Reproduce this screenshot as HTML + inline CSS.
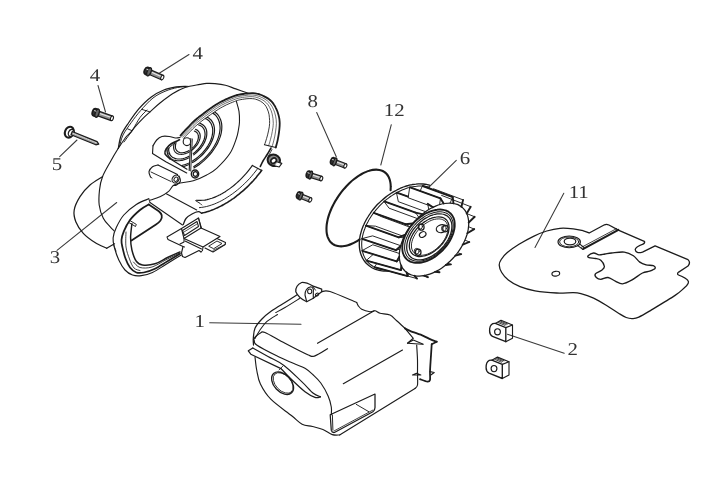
<!DOCTYPE html>
<html><head><meta charset="utf-8"><title>Parts diagram</title>
<style>
html,body{margin:0;padding:0;background:#fff;}
body{width:720px;height:480px;overflow:hidden;}
svg{display:block}
svg text{font-family:"Liberation Serif","DejaVu Serif",serif;fill:#333;stroke:none;text-rendering:geometricPrecision}
</style></head><body>
<svg width="720" height="480" viewBox="0 0 720 480" fill="none" stroke="#1c1c1c" stroke-width="1.15" stroke-linecap="round" stroke-linejoin="round">
<defs><filter id="gs" x="0" y="0" width="720" height="480" filterUnits="userSpaceOnUse" color-interpolation-filters="sRGB"><feGaussianBlur stdDeviation="0.38"/><feColorMatrix type="saturate" values="0"/></filter></defs>
<g filter="url(#gs)">
<g class="lb">
<text transform="translate(197.6 58.5) scale(1.16 1)" text-anchor="middle" font-size="18">4</text>
<text transform="translate(95 81.3) scale(1.16 1)" text-anchor="middle" font-size="18">4</text>
<text transform="translate(56.9 169.5) scale(1.16 1)" text-anchor="middle" font-size="18">5</text>
<text transform="translate(55 263.2) scale(1.16 1)" text-anchor="middle" font-size="18">3</text>
<text transform="translate(312.8 106.7) scale(1.16 1)" text-anchor="middle" font-size="18">8</text>
<text transform="translate(394.2 116.4) scale(1.16 1)" text-anchor="middle" font-size="18">12</text>
<text transform="translate(464.9 164.2) scale(1.16 1)" text-anchor="middle" font-size="18">6</text>
<text transform="translate(578.7 197.8) scale(1.16 1)" text-anchor="middle" font-size="18">11</text>
<text transform="translate(199.6 327) scale(1.16 1)" text-anchor="middle" font-size="18">1</text>
<text transform="translate(572.8 354.8) scale(1.16 1)" text-anchor="middle" font-size="18">2</text>
</g>
<g class="ld" stroke-width="1.05" stroke="#3a3a3a">
<path d="M189 54.5L159.6 73"/>
<path d="M98 85.5L105.5 112"/>
<path d="M59.7 156.7L77 140"/>
<path d="M57 250.3L116.7 202.5"/>
<path d="M316.7 112.5L336.3 156.7"/>
<path d="M391.3 124.7L380.8 165"/>
<path d="M456.3 160.3L418.3 197.5"/>
<path d="M563.8 193.3L535 247.5"/>
<path d="M209.7 322.8L301 324.2"/>
<path d="M564.2 353.3L507.5 334.2"/>
</g>
<g transform="translate(147.6 71.2) rotate(23.5)">
<path d="M1 -2.4 L16 -2.4 L16 2.4 L1 2.4 Z" fill="#8e8e8e" stroke-width="1.15"/>
<path d="M4.2 -0.6 L14.5 -0.6" stroke="#e8e8e8" stroke-width="1"/>
<ellipse cx="16" cy="0" rx="1.4" ry="2.4" fill="#fff" stroke-width="1.1"/>
<ellipse cx="-0.6" cy="0" rx="2.6" ry="3.7" fill="#3c3c3c" stroke-width="1.8"/>
<ellipse cx="1.6" cy="0" rx="1.9" ry="4.3" fill="#666" stroke-width="1.4"/>
<path d="M-1.6 -1.5 L-0.2 -1.5" stroke="#ddd" stroke-width=".9"/>
</g>
<g transform="translate(95.6 112.6) rotate(19.3)">
<path d="M1 -2.4 L17.3 -2.4 L17.3 2.4 L1 2.4 Z" fill="#8e8e8e" stroke-width="1.15"/>
<path d="M4.2 -0.6 L15.8 -0.6" stroke="#e8e8e8" stroke-width="1"/>
<ellipse cx="17.3" cy="0" rx="1.4" ry="2.4" fill="#fff" stroke-width="1.1"/>
<ellipse cx="-0.6" cy="0" rx="2.6" ry="3.7" fill="#3c3c3c" stroke-width="1.8"/>
<ellipse cx="1.6" cy="0" rx="1.9" ry="4.3" fill="#666" stroke-width="1.4"/>
<path d="M-1.6 -1.5 L-0.2 -1.5" stroke="#ddd" stroke-width=".9"/>
</g>
<g transform="translate(69.3 132.2) rotate(22.1)">
<ellipse cx="0" cy="0" rx="4.3" ry="5.6" fill="#fff" stroke-width="2.1"/>
<ellipse cx="2" cy="0" rx="2.7" ry="3.6" fill="#fff" stroke-width="1.3"/>
<path d="M2.5 -1.7 L29.3 -1.7 L31.8 0 L29.3 1.7 L2.5 1.7Z" fill="#9a9a9a" stroke-width="1.2"/>
<path d="M4 -0.3 L28.8 -0.3" stroke="#ddd" stroke-width=".9" stroke-dasharray="1 1"/>
</g>
<g transform="translate(333.3 161.3) rotate(21)">
<path d="M1 -2.3 L12.9 -2.3 L12.9 2.3 L1 2.3 Z" fill="#8e8e8e" stroke-width="1.15"/>
<path d="M3.3 -0.6 L11.4 -0.6" stroke="#e8e8e8" stroke-width="1"/>
<ellipse cx="12.9" cy="0" rx="1.4" ry="2.3" fill="#fff" stroke-width="1.1"/>
<ellipse cx="-0.6" cy="0" rx="2" ry="3.4" fill="#3c3c3c" stroke-width="1.8"/>
<ellipse cx="1.6" cy="0" rx="1.5" ry="4" fill="#666" stroke-width="1.4"/>
<path d="M-1.6 -1.4 L-0.2 -1.4" stroke="#ddd" stroke-width=".9"/>
</g>
<g transform="translate(309 174.6) rotate(18)">
<path d="M1 -2.3 L12.9 -2.3 L12.9 2.3 L1 2.3 Z" fill="#8e8e8e" stroke-width="1.15"/>
<path d="M3.3 -0.6 L11.4 -0.6" stroke="#e8e8e8" stroke-width="1"/>
<ellipse cx="12.9" cy="0" rx="1.4" ry="2.3" fill="#fff" stroke-width="1.1"/>
<ellipse cx="-0.6" cy="0" rx="2" ry="3.4" fill="#3c3c3c" stroke-width="1.8"/>
<ellipse cx="1.6" cy="0" rx="1.5" ry="4" fill="#666" stroke-width="1.4"/>
<path d="M-1.6 -1.4 L-0.2 -1.4" stroke="#ddd" stroke-width=".9"/>
</g>
<g transform="translate(299.3 195.5) rotate(21.8)">
<path d="M1 -2.3 L11.8 -2.3 L11.8 2.3 L1 2.3 Z" fill="#8e8e8e" stroke-width="1.15"/>
<path d="M3.3 -0.6 L10.3 -0.6" stroke="#e8e8e8" stroke-width="1"/>
<ellipse cx="11.8" cy="0" rx="1.4" ry="2.3" fill="#fff" stroke-width="1.1"/>
<ellipse cx="-0.6" cy="0" rx="2" ry="3.4" fill="#3c3c3c" stroke-width="1.8"/>
<ellipse cx="1.6" cy="0" rx="1.5" ry="4" fill="#666" stroke-width="1.4"/>
<path d="M-1.6 -1.4 L-0.2 -1.4" stroke="#ddd" stroke-width=".9"/>
</g>
<g transform="translate(0 0)">
<path d="M495.3 323.4 L505.8 327.6 L505.8 341.7 L492.5 336.3 Q489.6 334.8 489.6 331 L489.7 328.5 Q490.5 323 495.3 323.4Z" stroke-width="1.35" fill="#fff"/>
<path d="M495.3 323.4 L501 320.3 L512.5 325 L505.8 327.6" stroke-width="1.14"/>
<path d="M512.5 325 L512.5 338.3 L505.8 341.7" stroke-width="1.14"/>
<path d="M499.5 321.8L506.3 324.6" stroke-width="0.83"/>
<path d="M498.3 322.6L505 325.4" stroke-width="0.83"/>
<path d="M500.7 321.2L507.5 324" stroke-width="0.83"/>
<ellipse cx="497.5" cy="331.8" rx="2.9" ry="3.1" stroke-width="1.14"/>
</g>
<g transform="translate(-3.5 36.8)">
<path d="M495.3 323.4 L505.8 327.6 L505.8 341.7 L492.5 336.3 Q489.6 334.8 489.6 331 L489.7 328.5 Q490.5 323 495.3 323.4Z" stroke-width="1.35" fill="#fff"/>
<path d="M495.3 323.4 L501 320.3 L512.5 325 L505.8 327.6" stroke-width="1.14"/>
<path d="M512.5 325 L512.5 338.3 L505.8 341.7" stroke-width="1.14"/>
<path d="M499.5 321.8L506.3 324.6" stroke-width="0.83"/>
<path d="M498.3 322.6L505 325.4" stroke-width="0.83"/>
<path d="M500.7 321.2L507.5 324" stroke-width="0.83"/>
<ellipse cx="497.5" cy="331.8" rx="2.9" ry="3.1" stroke-width="1.14"/>
</g>
<g id="cover">
<path d="M118.3 148.3C118.8 146.1 119.5 139.3 121.3 135C123 130.7 125.9 126.9 128.8 122.5C131.7 118.1 135.1 113.1 138.8 108.8C142.6 104.5 147.1 100 151.3 96.9C155.5 93.8 159.6 91.7 163.8 90C168 88.3 172.6 87.5 176.3 86.9C180.1 86.3 184.6 86.4 186.3 86.3" stroke-width="1.25"/>
<path d="M119.5 146.5C120.1 144.6 121 139 123 135C125 131 128.4 126.6 131.3 122.5C134.2 118.4 137 114.7 140.6 110.6C144.2 106.5 148.9 101.2 153 98C157.1 94.8 160.9 93 165 91.3C169.1 89.5 173.7 88.3 177.5 87.5C181.3 86.7 186.2 86.5 188 86.3" stroke-width="0.94"/>
<path d="M124 142C125.4 140 129.8 134.1 132.5 130C135.2 125.9 137.6 120.8 140 117.5C142.4 114.2 145.8 111.2 147 110" stroke-width="0.94"/>
<path d="M118.3 148.3C119.6 146.4 124 139.6 126 137C128.1 134.4 129.1 134.2 130.6 132.5C132.1 130.8 133 129.2 135 126.9C137 124.6 140 121.3 142.5 118.8C145 116.3 147.1 114.5 150 111.9C152.9 109.3 156.2 106 160 103C163.8 100 168.3 96.4 172.5 93.8C176.7 91.2 180.4 89.1 185 87.5C189.6 85.9 196.4 85.1 200 84.4C203.6 83.7 204.2 83.5 206.7 83.4C209.2 83.3 211.9 83.3 215 83.6C218.1 83.9 221.9 84.3 225.4 85.2C228.9 86.1 232 87.6 235.8 88.9C239.6 90.2 246.2 92.5 248.3 93.2" stroke-width="1.14"/>
<path d="M141.9 109.4L150 111.9" stroke-width="0.94"/>
<path d="M127.5 128.8L131.9 130.6" stroke-width="0.94"/>
<path d="M118.3 148.3C117 150.4 113.4 156.3 110.8 161C108.2 165.7 104.4 171.9 102.5 176.7C100.6 181.5 100 185.3 99.5 190C99 194.7 98.6 200.3 99.2 205C99.8 209.7 101.5 214.7 103.3 218.3C105.1 221.9 108.2 224.6 110 226.7C111.8 228.8 113.3 230.1 114 230.8" stroke-width="1.14"/>
<path d="M102.5 176.7C100.4 178.1 93.8 181.7 90 185C86.2 188.3 82.6 192.5 80 196.7C77.4 200.9 74.9 205.8 74.2 210C73.5 214.2 74.3 217.8 75.8 221.7C77.3 225.6 80.1 229.8 83.3 233.3C86.5 236.8 91.1 240 95 242.5C98.9 245 104.8 247.3 106.7 248.3" stroke-width="1.25"/>
<path d="M106.7 248.3L114.5 243.8" stroke-width="1.25"/>
<path d="M113.5 244.5L116 251" stroke-width="0.83"/>
<path d="M180.5 135.5C180.8 135.2 181.5 134.4 182.1 133.7C182.8 132.9 183.7 131.9 184.5 131C185.3 130.1 186.2 129.2 187 128.3C187.8 127.4 188.6 126.6 189.4 125.8C190.2 124.9 191 124 191.9 123.1C192.9 122.2 193.9 121.3 195 120.3C196.1 119.3 197.5 118.2 198.8 117.1C200.2 116 201.7 114.8 203.2 113.7C204.6 112.6 206.1 111.5 207.5 110.5C208.9 109.5 210.3 108.5 211.7 107.6C213.1 106.6 214.4 105.7 215.8 104.8C217.2 103.9 218.6 103.1 220 102.3C221.4 101.5 222.9 100.8 224.4 100.1C225.8 99.4 227.3 98.8 228.7 98.2C230.1 97.6 231.4 97.1 232.5 96.7C233.6 96.3 234.4 96 235.2 95.7C236 95.4 236.5 95.2 237.3 95C238.1 94.8 238.9 94.7 240 94.5C241.1 94.3 242.6 94.1 244 93.9C245.5 93.7 247.2 93.4 248.7 93.3C250.2 93.2 251.7 93.1 253 93.2C254.3 93.3 255.5 93.4 256.6 93.7C257.7 93.9 258.8 94.2 259.9 94.5C260.9 94.9 262 95.3 263 95.8C264 96.3 265.1 96.8 266.1 97.4C267.1 98 268.1 98.6 269.1 99.3C270 100 270.9 100.8 271.7 101.7C272.5 102.6 273.3 103.6 274 104.7C274.7 105.7 275.4 106.9 275.9 108.1C276.5 109.3 277.1 110.5 277.5 111.7C277.9 112.9 278.3 114.1 278.6 115.4C278.9 116.6 279.2 117.9 279.4 119.2C279.5 120.6 279.7 121.9 279.7 123.3C279.7 124.7 279.7 126.2 279.5 127.7C279.4 129.2 279.2 130.9 279 132.4C278.8 133.9 278.6 135.3 278.3 136.7C278 138.1 277.8 139.5 277.5 140.9C277.2 142.2 276.8 143.7 276.5 144.8C276.2 145.9 275.9 147 275.8 147.5" stroke-width="1.82"/>
<path d="M181.5 136.4C181.8 136.1 182.5 135.3 183.2 134.6C183.9 133.9 184.7 132.9 185.6 132C186.4 131.1 187.3 130.2 188.1 129.3C188.9 128.5 189.7 127.7 190.5 126.8C191.3 126 192.1 125.1 193 124.2C194 123.4 194.9 122.5 196 121.5C197.2 120.5 198.5 119.4 199.9 118.4C201.2 117.3 202.7 116.1 204.2 115C205.6 113.9 207.1 112.9 208.5 111.9C209.9 110.9 211.3 109.9 212.6 109C214 108 215.4 107.1 216.8 106.2C218.1 105.4 219.4 104.6 220.8 103.8C222.2 103 223.7 102.3 225.1 101.7C226.5 101 228 100.4 229.4 99.8C230.7 99.2 232.1 98.7 233.1 98.3C234.2 97.9 235 97.6 235.7 97.3C236.5 97 236.9 96.9 237.7 96.7C238.4 96.5 239.2 96.4 240.3 96.2C241.4 96 242.9 95.7 244.3 95.6C245.7 95.4 247.4 95.1 248.8 95C250.3 95 251.7 94.9 252.9 95C254.1 95.1 255.2 95.3 256.2 95.5C257.3 95.7 258.3 96 259.3 96.4C260.2 96.7 261.2 97.1 262.2 97.6C263.2 98.1 264.1 98.6 265.1 99.2C266 99.8 266.9 100.4 267.7 101.1C268.5 101.8 269.2 102.5 269.9 103.4C270.6 104.2 271.2 105.1 271.8 106.1C272.4 107.1 273 108.2 273.4 109.3C273.9 110.4 274.4 111.6 274.7 112.7C275.1 113.9 275.4 115 275.6 116.1C275.8 117.3 276 118.5 276.2 119.7C276.3 120.9 276.4 122.1 276.4 123.4C276.4 124.7 276.3 126 276.1 127.4C276 128.9 275.8 130.4 275.5 131.9C275.3 133.3 275.1 134.7 274.8 136.1C274.5 137.5 274.2 138.8 273.9 140.1C273.6 141.4 273.2 142.8 272.9 143.9C272.6 144.9 272.2 146.1 272.1 146.6" stroke-width="0.64"/>
<path d="M182.5 137.3C182.8 137 183.5 136.2 184.2 135.5C184.9 134.8 185.8 133.8 186.6 132.9C187.4 132 188.3 131.1 189.1 130.3C189.9 129.4 190.7 128.6 191.5 127.8C192.4 127 193.1 126.1 194.1 125.3C195 124.4 195.9 123.6 197 122.6C198.2 121.7 199.5 120.6 200.8 119.6C202.2 118.5 203.7 117.3 205.1 116.3C206.6 115.2 208 114.2 209.4 113.2C210.8 112.2 212.2 111.2 213.6 110.3C214.9 109.4 216.3 108.4 217.6 107.6C219 106.7 220.2 106 221.6 105.2C223 104.5 224.4 103.8 225.8 103.1C227.1 102.5 228.7 101.8 230 101.3C231.3 100.7 232.7 100.2 233.7 99.8C234.8 99.4 235.6 99.1 236.3 98.8C237 98.6 237.4 98.4 238.1 98.3C238.8 98.1 239.5 98 240.6 97.8C241.6 97.6 243.1 97.3 244.5 97.2C245.9 97 247.6 96.8 249 96.7C250.3 96.6 251.7 96.6 252.8 96.7C254 96.8 254.9 97 255.9 97.2C256.9 97.4 257.8 97.7 258.7 98.1C259.6 98.4 260.5 98.8 261.4 99.3C262.3 99.8 263.2 100.3 264.1 100.9C264.9 101.5 265.7 102.2 266.4 102.8C267.1 103.5 267.6 104.1 268.2 104.9C268.7 105.7 269.2 106.5 269.7 107.5C270.2 108.4 270.7 109.5 271.1 110.5C271.5 111.6 271.8 112.6 272.1 113.7C272.4 114.7 272.6 115.8 272.7 116.8C272.9 117.9 273.1 119 273.1 120.1C273.2 121.2 273.3 122.3 273.3 123.5C273.2 124.6 273.1 125.8 273 127.2C272.8 128.5 272.5 130 272.3 131.4C272 132.8 271.8 134.2 271.5 135.5C271.2 136.8 270.9 138.1 270.5 139.3C270.2 140.5 269.8 141.9 269.5 143C269.1 144.1 268.7 145.3 268.6 145.7" stroke-width="0.64"/>
<path d="M183.6 138.3C183.9 138 184.7 137.2 185.4 136.5C186 135.8 186.9 134.8 187.7 134C188.6 133.1 189.5 132.2 190.3 131.4C191.1 130.5 191.9 129.7 192.7 128.9C193.6 128.1 194.3 127.3 195.2 126.5C196.2 125.7 197.1 124.9 198.2 123.9C199.3 123 200.6 122 201.9 120.9C203.3 119.9 204.8 118.8 206.2 117.7C207.6 116.7 209.1 115.6 210.5 114.7C211.9 113.7 213.3 112.7 214.6 111.8C216 110.9 217.3 110 218.6 109.2C219.9 108.3 221.2 107.6 222.5 106.9C223.8 106.1 225.2 105.5 226.5 104.8C227.9 104.2 229.4 103.6 230.7 103C232 102.5 233.4 101.9 234.4 101.5C235.4 101.1 236.2 100.8 236.9 100.6C237.6 100.3 237.9 100.3 238.5 100.1C239.2 99.9 239.8 99.8 240.9 99.6C241.9 99.4 243.4 99.2 244.8 99C246.1 98.8 247.8 98.6 249.1 98.6C250.4 98.5 251.7 98.6 252.7 98.7C253.8 98.7 254.6 98.9 255.5 99.2C256.4 99.4 257.2 99.7 258 100C258.8 100.4 259.7 100.7 260.5 101.2C261.4 101.7 262.2 102.3 262.9 102.9C263.6 103.5 264.3 104.2 264.9 104.8C265.4 105.4 265.8 106 266.2 106.7C266.6 107.4 267 108.2 267.3 109C267.7 109.9 268.1 110.9 268.4 111.9C268.6 112.8 268.9 113.9 269.1 114.8C269.2 115.8 269.3 116.7 269.4 117.7C269.5 118.6 269.6 119.6 269.6 120.6C269.7 121.5 269.7 122.5 269.6 123.5C269.6 124.6 269.4 125.6 269.3 126.8C269.1 128.1 268.8 129.5 268.5 130.9C268.2 132.2 267.9 133.6 267.6 134.9C267.3 136.1 267 137.2 266.6 138.4C266.3 139.6 265.9 140.9 265.5 142C265.2 143 264.7 144.2 264.5 144.7" stroke-width="0.88"/>
<path d="M264.5 144.7L275.8 147.5" stroke-width="1.14"/>
<path d="M236.4 101.4C236.8 103.1 238.5 107.9 239 111.3C239.5 114.7 239.6 118.6 239.5 121.7C239.4 124.8 238.9 127.3 238.4 130C237.9 132.7 237.9 134.1 236.5 138C235.1 141.9 233.3 148.2 230 153.3C226.7 158.4 220.6 164.7 216.7 168.3C212.8 171.9 210.6 172.9 206.7 175C202.8 177.1 197.8 179.5 193.3 180.8C188.9 182.1 183.3 182.2 180 183C176.7 183.8 175.2 184.1 173.3 185.5C171.4 186.9 170.5 189.8 168.3 191.7C166.1 193.6 163.1 195.3 160 196.7C156.9 198.1 151.7 199.7 150 200.3" stroke-width="1.09"/>
<path d="M261.7 170.4C261.3 170.8 260.4 172.1 259.7 173C259 173.9 258.3 174.8 257.6 175.6C256.9 176.5 256.2 177.3 255.5 178.2C254.8 179 254 179.8 253.3 180.7C252.5 181.5 251.8 182.3 251 183.1C250.3 183.9 249.5 184.7 248.7 185.5C247.9 186.3 247.1 187.1 246.3 187.8C245.5 188.6 244.7 189.3 243.8 190.1C243 190.8 242.2 191.5 241.3 192.2C240.5 192.9 239.7 193.6 238.8 194.3C237.9 195 237.1 195.7 236.2 196.3C235.4 197 234.5 197.6 233.6 198.3C232.7 198.9 231.9 199.5 231 200.1C230.1 200.7 229.2 201.3 228.3 201.8C227.4 202.4 226.5 202.9 225.6 203.4C224.7 204 223.8 204.5 222.9 205C222.1 205.5 221.2 205.9 220.3 206.4C219.4 206.9 218.5 207.3 217.6 207.7C216.7 208.1 215.8 208.5 214.9 208.9C214 209.3 213.1 209.7 212.2 210C211.3 210.3 210.4 210.7 209.6 211C208.7 211.3 207.8 211.6 206.9 211.8C206 212.1 205.2 212.3 204.3 212.6C203.5 212.8 202.2 213.1 201.7 213.2" stroke-width="1.56"/>
<path d="M257.8 168.3C257.5 168.7 256.5 170.1 255.8 171C255.1 171.8 254.4 172.7 253.7 173.6C253 174.5 252.3 175.3 251.6 176.2C250.8 177 250.1 177.8 249.4 178.7C248.6 179.5 247.8 180.3 247.1 181.1C246.3 181.9 245.5 182.7 244.7 183.5C243.9 184.2 243.1 185 242.3 185.7C241.5 186.5 240.7 187.2 239.9 187.9C239.1 188.6 238.2 189.3 237.4 190C236.5 190.7 235.7 191.4 234.9 192C234 192.7 233.2 193.3 232.3 193.9C231.4 194.6 230.6 195.2 229.7 195.7C228.9 196.3 228 196.9 227.1 197.4C226.3 198 225.4 198.5 224.5 199C223.7 199.5 222.8 200 221.9 200.5C221.1 200.9 220.2 201.4 219.3 201.8C218.5 202.2 217.6 202.6 216.7 203C215.9 203.4 215 203.7 214.2 204.1C213.3 204.4 212.4 204.7 211.6 205C210.8 205.3 209.9 205.6 209.1 205.8C208.2 206.1 207.4 206.3 206.6 206.5C205.8 206.7 204.9 206.9 204.1 207C203.3 207.2 202.5 207.3 201.7 207.4C200.9 207.6 199.8 207.7 199.4 207.7" stroke-width="0.94"/>
<path d="M252.4 165.4C252.1 165.9 251.1 167.2 250.4 168.1C249.7 169 249 169.9 248.3 170.8C247.6 171.7 246.9 172.5 246.2 173.4C245.4 174.2 244.7 175.1 243.9 175.9C243.2 176.7 242.4 177.5 241.6 178.3C240.8 179.1 240 179.9 239.3 180.6C238.5 181.4 237.7 182.1 236.8 182.9C236 183.6 235.2 184.3 234.4 185C233.6 185.7 232.8 186.3 231.9 187C231.1 187.6 230.3 188.3 229.4 188.9C228.6 189.5 227.7 190.1 226.9 190.6C226.1 191.2 225.2 191.7 224.4 192.3C223.5 192.8 222.7 193.3 221.8 193.8C221 194.2 220.1 194.7 219.3 195.1C218.5 195.5 217.6 195.9 216.8 196.3C216 196.7 215.1 197 214.3 197.4C213.5 197.7 212.7 198 211.9 198.3C211 198.6 210.2 198.8 209.4 199C208.6 199.3 207.8 199.4 207.1 199.6C206.3 199.8 205.5 199.9 204.7 200.1C204 200.2 203.2 200.3 202.5 200.3C201.7 200.4 201 200.4 200.3 200.4C199.6 200.4 198.9 200.4 198.2 200.4C197.5 200.3 196.5 200.2 196.1 200.2" stroke-width="1.14"/>
<path d="M252.4 165.4L261.7 170.4" stroke-width="1.14"/>
<path d="M195.8 200.8L200 203.3L201.7 205" stroke-width="0.94"/>
<path d="M271 148C270.4 149 268.8 151.8 267.5 154C266.2 156.2 264.2 158.9 263 161C261.8 163.1 260.8 165.6 260.3 166.5" stroke-width="1.56"/>
<path d="M272 149.5L268.5 156" stroke-width="0.83"/>
<clipPath id="gclip"><path d="M183.6 138.3L184.4 137.5L185.4 136.5L186.5 135.3L187.7 134L189 132.7L190.3 131.4L191.5 130.2L192.7 128.9L194 127.7L195.2 126.5L196.6 125.2L198.2 123.9L199.9 122.5L201.9 120.9L204 119.3L206.2 117.7L208.4 116.1L210.5 114.7L212.6 113.2L214.6 111.8L216.6 110.5L218.6 109.2L220.6 108L222.5 106.9L224.5 105.8L226.5 104.8L228.6 103.9L230.7 103L232.6 102.2L234.4 101.5L235.8 101L245 120L240 160L200 185L150 185L150 150Z"/></clipPath>
<g clip-path="url(#gclip)">
<path d="M209.7 109.4C210.3 109.7 212.2 110.4 213.4 111C214.5 111.7 215.5 112.4 216.4 113.3C217.4 114.2 218.2 115.1 218.9 116.2C219.6 117.3 220.1 118.4 220.6 119.7C221 120.9 221.4 122.2 221.6 123.6C221.8 125 221.9 126.4 221.8 127.9C221.8 129.4 221.6 131 221.3 132.6C221 134.2 220.5 135.8 220 137.4C219.4 139.1 218.7 140.7 217.9 142.4C217.2 144 216.2 145.7 215.2 147.3C214.2 148.9 213.1 150.5 211.9 152.1C210.7 153.6 209.4 155.2 208 156.6C206.7 158.1 205.2 159.5 203.7 160.9C202.2 162.2 200.6 163.5 199 164.7C197.4 165.9 194.8 167.5 194 168" stroke-width="1.2"/>
<path d="M208.6 111.1C209.1 111.3 211 112 212 112.6C213.1 113.2 214.1 113.9 215 114.7C215.8 115.5 216.6 116.5 217.3 117.5C217.9 118.5 218.5 119.6 218.9 120.8C219.3 121.9 219.7 123.2 219.8 124.5C220 125.8 220.1 127.2 220.1 128.6C220 130.1 219.8 131.5 219.5 133C219.3 134.5 218.8 136.1 218.3 137.6C217.8 139.2 217.1 140.8 216.4 142.3C215.6 143.9 214.8 145.5 213.8 147C212.9 148.5 211.8 150.1 210.7 151.6C209.5 153 208.3 154.5 207 155.9C205.7 157.3 204.3 158.7 202.9 159.9C201.4 161.2 199.9 162.4 198.4 163.6C196.8 164.7 194.4 166.2 193.7 166.7" stroke-width="1.2"/>
<path d="M204.9 116.2C205.4 116.4 206.9 117 207.8 117.5C208.7 118 209.5 118.6 210.2 119.3C211 120 211.6 120.7 212.2 121.6C212.7 122.4 213.2 123.3 213.5 124.3C213.9 125.3 214.1 126.3 214.3 127.4C214.5 128.5 214.5 129.7 214.5 130.8C214.4 132 214.3 133.3 214 134.5C213.8 135.7 213.5 137 213 138.3C212.6 139.6 212 140.9 211.4 142.2C210.8 143.5 210.1 144.8 209.3 146.1C208.5 147.4 207.6 148.7 206.7 149.9C205.7 151.1 204.7 152.3 203.6 153.5C202.5 154.7 201.4 155.8 200.2 156.9C199 157.9 197.7 158.9 196.4 159.9C195.2 160.8 193.2 162.1 192.5 162.5" stroke-width="1.2"/>
<path d="M203.8 117.8C204.2 118 205.6 118.5 206.5 119C207.3 119.5 208.1 120.1 208.8 120.7C209.4 121.3 210 122.1 210.6 122.8C211.1 123.6 211.5 124.5 211.8 125.4C212.2 126.3 212.4 127.3 212.6 128.3C212.7 129.3 212.8 130.4 212.7 131.5C212.7 132.6 212.6 133.8 212.3 135C212.1 136.1 211.8 137.3 211.4 138.5C211 139.7 210.5 141 209.9 142.2C209.3 143.4 208.6 144.6 207.9 145.8C207.1 147 206.3 148.2 205.4 149.4C204.5 150.5 203.6 151.7 202.5 152.8C201.5 153.8 200.4 154.9 199.3 155.9C198.2 156.9 197 157.8 195.8 158.7C194.6 159.6 192.8 160.8 192.2 161.2" stroke-width="1.2"/>
<path d="M199.9 123.3C200.2 123.5 201.3 123.9 202 124.2C202.6 124.6 203.2 125 203.7 125.5C204.3 126 204.7 126.6 205.1 127.2C205.5 127.8 205.8 128.4 206.1 129.1C206.4 129.8 206.6 130.6 206.7 131.4C206.8 132.2 206.8 133 206.8 133.9C206.8 134.7 206.7 135.6 206.5 136.5C206.3 137.4 206.1 138.3 205.7 139.3C205.4 140.2 205 141.1 204.6 142.1C204.1 143 203.6 144 203.1 144.9C202.5 145.8 201.8 146.7 201.2 147.6C200.5 148.5 199.7 149.4 198.9 150.2C198.2 151.1 197.3 151.9 196.5 152.6C195.6 153.4 194.2 154.5 193.8 154.8" stroke-width="1.2"/>
<path d="M198.8 124.9C199.1 125.1 200.1 125.4 200.7 125.8C201.2 126.1 201.8 126.5 202.3 126.9C202.7 127.4 203.2 127.9 203.5 128.4C203.9 129 204.2 129.6 204.4 130.2C204.7 130.9 204.8 131.6 204.9 132.3C205 133 205.1 133.8 205.1 134.5C205 135.3 204.9 136.1 204.8 137C204.6 137.8 204.4 138.6 204.1 139.5C203.8 140.3 203.5 141.2 203 142C202.6 142.9 202.2 143.8 201.6 144.6C201.1 145.4 200.5 146.3 199.9 147.1C199.3 147.9 198.6 148.7 197.9 149.5C197.2 150.2 196.4 151 195.6 151.7C194.8 152.4 193.6 153.3 193.2 153.7" stroke-width="1.2"/>
<path d="M195.6 129.4C195.8 129.5 196.5 129.8 197 130C197.4 130.3 197.8 130.6 198.1 130.9C198.5 131.2 198.8 131.6 199 132C199.3 132.4 199.5 132.9 199.7 133.3C199.9 133.8 200 134.3 200.1 134.8C200.2 135.3 200.2 135.9 200.2 136.5C200.1 137 200.1 137.6 200 138.2C199.8 138.8 199.7 139.5 199.5 140.1C199.3 140.7 199 141.3 198.7 142C198.4 142.6 198.1 143.2 197.7 143.8C197.3 144.4 196.9 145.1 196.4 145.6C195.9 146.2 195.5 146.8 194.9 147.4C194.4 147.9 193.9 148.5 193.3 149C192.7 149.5 191.8 150.2 191.5 150.4" stroke-width="1.2"/>
<path d="M194.4 131.1C194.6 131.1 195.3 131.4 195.6 131.6C196 131.8 196.3 132 196.6 132.3C196.9 132.6 197.2 132.9 197.4 133.3C197.7 133.6 197.9 134 198 134.4C198.2 134.8 198.3 135.3 198.3 135.7C198.4 136.2 198.4 136.7 198.4 137.2C198.4 137.7 198.3 138.2 198.2 138.7C198.1 139.2 198 139.8 197.8 140.3C197.6 140.8 197.4 141.4 197.1 141.9C196.9 142.5 196.6 143 196.3 143.5C195.9 144.1 195.6 144.6 195.2 145.1C194.8 145.6 194.3 146.1 193.9 146.6C193.4 147.1 192.7 147.8 192.4 148" stroke-width="1.2"/>
</g>
<clipPath id="hclip"><path d="M181 138.5L171.3 143.8L166.3 148.8L165 153.8L170 158.8L188.5 170L190.5 169L190.8 138Z"/></clipPath>
<g clip-path="url(#hclip)">
<path d="M189.1 157.8C188.7 157.9 187.7 158.4 187 158.7C186.3 159 185.6 159.3 184.9 159.5C184.2 159.7 183.5 159.9 182.8 160.1C182.2 160.3 181.5 160.4 180.8 160.5C180.2 160.6 179.5 160.7 178.9 160.7C178.2 160.7 177.6 160.7 177 160.7C176.4 160.6 175.8 160.5 175.3 160.4C174.7 160.3 174.2 160.2 173.6 160C173.1 159.8 172.6 159.6 172.2 159.4C171.7 159.1 171.3 158.8 170.8 158.5C170.4 158.2 170.1 157.9 169.7 157.5C169.4 157.2 169 156.8 168.8 156.3C168.5 155.9 168.2 155.5 168 155C167.8 154.5 167.6 154 167.4 153.5C167.3 153 167.2 152.4 167.1 151.9C167 151.3 167 150.7 167 150.1C167 149.5 167.1 148.6 167.1 148.3" stroke-width="1.14"/>
<path d="M188.9 156.3C188.6 156.5 187.6 157 187 157.2C186.3 157.5 185.7 157.7 185.1 158C184.5 158.2 183.8 158.3 183.2 158.5C182.6 158.6 182 158.8 181.4 158.9C180.8 158.9 180.2 159 179.6 159C179 159 178.4 159 177.9 159C177.3 159 176.8 158.9 176.3 158.8C175.8 158.7 175.3 158.6 174.8 158.4C174.3 158.2 173.9 158 173.5 157.8C173 157.6 172.6 157.3 172.3 157.1C171.9 156.8 171.5 156.5 171.2 156.1C170.9 155.8 170.6 155.4 170.3 155.1C170.1 154.7 169.9 154.3 169.7 153.8C169.5 153.4 169.3 152.9 169.2 152.5C169 152 168.9 151.5 168.8 151C168.8 150.5 168.7 149.9 168.7 149.4C168.7 148.9 168.8 148 168.8 147.7" stroke-width="1.14"/>
<path d="M189.4 151.8C189.1 152 188.3 152.4 187.8 152.7C187.3 152.9 186.8 153.1 186.3 153.3C185.7 153.5 185.2 153.7 184.7 153.8C184.2 154 183.7 154.1 183.2 154.2C182.7 154.3 182.2 154.3 181.7 154.4C181.2 154.4 180.8 154.4 180.3 154.3C179.9 154.3 179.4 154.3 179 154.2C178.6 154.1 178.2 154 177.8 153.8C177.4 153.7 177.1 153.5 176.7 153.3C176.4 153.1 176.1 152.9 175.8 152.6C175.5 152.3 175.3 152.1 175 151.8C174.8 151.5 174.6 151.1 174.4 150.8C174.2 150.4 174.1 150.1 174 149.7C173.9 149.3 173.8 148.9 173.7 148.5C173.7 148.1 173.6 147.6 173.6 147.2C173.6 146.7 173.7 146.3 173.7 145.8C173.8 145.3 173.9 144.8 174 144.4C174.1 143.9 174.4 143.1 174.5 142.9" stroke-width="1.14"/>
<path d="M189 150.5C188.8 150.6 188.2 151 187.7 151.2C187.3 151.4 186.8 151.6 186.3 151.8C185.9 152 185.4 152.1 185 152.2C184.6 152.4 184.1 152.5 183.7 152.5C183.2 152.6 182.8 152.7 182.4 152.7C182 152.7 181.6 152.7 181.2 152.7C180.8 152.7 180.4 152.6 180 152.5C179.7 152.4 179.3 152.3 179 152.2C178.7 152.1 178.4 151.9 178.1 151.8C177.8 151.6 177.5 151.4 177.3 151.2C177 150.9 176.8 150.7 176.6 150.4C176.4 150.2 176.2 149.9 176.1 149.6C175.9 149.3 175.8 149 175.7 148.6C175.6 148.3 175.5 148 175.4 147.6C175.4 147.2 175.4 146.8 175.4 146.5C175.4 146.1 175.4 145.7 175.5 145.3C175.5 144.8 175.6 144.4 175.7 144C175.8 143.6 176.1 142.9 176.1 142.7" stroke-width="1.14"/>
<path d="M188.5 164.7C188 164.8 186.8 165.4 185.9 165.7C185.1 166.1 184.3 166.4 183.4 166.6C182.6 166.9 181.7 167.1 180.9 167.3C180.1 167.5 179.3 167.6 178.5 167.8C177.7 167.9 176.9 168 176.1 168C175.3 168 174.6 168.1 173.8 168C173.1 168 172.4 167.9 171.7 167.8C171 167.7 170.3 167.6 169.6 167.4C169 167.2 168.3 167 167.7 166.8C167.1 166.5 166.5 166.2 166 165.9C165.5 165.6 164.9 165.3 164.4 164.9C164 164.5 163.5 164.1 163.1 163.6C162.6 163.2 162.3 162.7 161.9 162.2C161.5 161.7 161.2 161.2 160.9 160.6C160.7 160 160.4 159.5 160.2 158.8C160 158.2 159.8 157.3 159.7 156.9" stroke-width="1.14"/>
<path d="M188.4 163.2C188 163.4 186.8 163.9 186 164.2C185.2 164.5 184.4 164.8 183.6 165C182.9 165.3 182.1 165.5 181.3 165.7C180.5 165.9 179.8 166 179 166.1C178.3 166.2 177.5 166.3 176.8 166.3C176.1 166.4 175.4 166.4 174.7 166.4C174 166.3 173.3 166.3 172.6 166.2C172 166.1 171.3 165.9 170.7 165.8C170.1 165.6 169.5 165.4 168.9 165.2C168.4 165 167.8 164.7 167.3 164.4C166.8 164.1 166.3 163.8 165.9 163.4C165.4 163 165 162.7 164.6 162.2C164.2 161.8 163.8 161.4 163.5 160.9C163.1 160.4 162.8 159.9 162.6 159.4C162.3 158.9 162.1 158.3 161.9 157.8C161.7 157.2 161.5 156.3 161.4 156" stroke-width="1.14"/>
</g>
<path d="M190.8 138.5L189.2 170.5" stroke-width="1.14"/>
<path d="M192.3 139L190.7 171" stroke-width="0.94"/>
<ellipse cx="186.9" cy="141.7" rx="3.7" ry="3.9" stroke-width="1.14" fill="#fff"/>
<path d="M180.1 137.5C179.3 137.6 177.2 138.2 175.4 138C173.6 137.8 171.4 136.8 169.2 136.5C166.9 136.2 164 135.9 161.9 136.5C159.8 137.1 158.2 138.4 156.7 140C155.2 141.6 153.6 144.8 153 145.8" stroke-width="1.14"/>
<path d="M153 145.8L152.5 153.5L165.8 161.7L186.7 173" stroke-width="1.14"/>
<path d="M179.5 139.8C178.1 140.5 173.5 142.3 171.3 143.8C169.1 145.3 167.4 147.1 166.3 148.8C165.2 150.5 164.4 152.1 165 153.8C165.6 155.5 169.2 158 170 158.8" stroke-width="1.66"/>
<path d="M170 158.8L187 169.2" stroke-width="1.25"/>
<path d="M176 142.5C174.9 143.3 170.9 145.8 169.5 147.5C168.1 149.2 167.5 151 167.8 152.5C168.1 154 170.9 155.8 171.5 156.5" stroke-width="0.94"/>
<path d="M150.5 177C150.2 176.1 148.7 173.4 149 171.7C149.3 170 151 167.8 152.5 166.7C154 165.6 157.1 165.3 158 165" stroke-width="1.14"/>
<path d="M158 165L177.5 174.5" stroke-width="1.14"/>
<path d="M150.5 177L152 178" stroke-width="0.94"/>
<path d="M151 172L171 181.5" stroke-width="0.94"/>
<ellipse cx="175.6" cy="179" rx="3.2" ry="4.1" transform="rotate(35 175.6 179)" stroke-width="1.14"/>
<ellipse cx="175.9" cy="179.2" rx="1.7" ry="2.3" transform="rotate(35 175.9 179.2)" stroke-width="0.94"/>
<path d="M179 176C179.2 176.8 180.9 179.5 180.5 181C180.1 182.5 177.7 184.2 176.5 185C175.3 185.8 173.8 185.4 173.3 185.5" stroke-width="1.04"/>
<ellipse cx="195" cy="174" rx="3.6" ry="4" stroke-width="1.56"/>
<ellipse cx="195.4" cy="174" rx="2.1" ry="2.4" stroke-width="1.14"/>
<ellipse cx="273.8" cy="160.2" rx="6.3" ry="5.6" transform="rotate(20 273.8 160.2)" stroke-width="2.08" fill="#8a8a8a"/>
<ellipse cx="273.6" cy="160.6" rx="3" ry="2.4" transform="rotate(-40 273.6 160.6)" stroke-width="1.66" fill="#fff"/>
<path d="M277.5 162L281.8 163.4L279.2 167L274.5 165.8" stroke-width="1.14" fill="#fff"/>
<path d="M148.8 198.8C146.7 199.7 140.5 201.7 136.3 204.4C132.1 207.1 127.1 211.2 123.8 215C120.5 218.8 118.1 223.7 116.3 227.5C114.5 231.3 113.4 234.7 113.1 238C112.8 241.3 113.5 243.8 114.4 247.5C115.4 251.2 117 256.2 118.8 260C120.6 263.8 122.7 267.5 125 270C127.3 272.5 129.8 274.1 132.5 275C135.2 275.9 138 276 141.3 275.6C144.6 275.2 148.6 274.3 152.5 272.5C156.4 270.7 161.2 267.3 165 265C168.8 262.7 172.3 260.5 175 258.8C177.7 257.1 180.2 255.6 181.3 255" stroke-width="1.14"/>
<path d="M148.8 204.5C147.3 205.4 143.1 207.4 140 210C136.9 212.6 132.7 216.4 130 220C127.3 223.6 125.2 228 123.8 231.3C122.4 234.6 121.7 237.3 121.5 240C121.3 242.7 121.8 244.4 122.5 247.5C123.2 250.6 124.3 255.5 125.6 258.8C126.8 262.1 128.2 265.2 130 267.5C131.8 269.8 134 271.7 136.3 272.5C138.6 273.3 140.7 273.1 143.8 272.5C146.9 271.9 151.1 270.7 155 268.8C158.9 266.9 163.3 263.8 167.5 261.3C171.7 258.8 177.9 255.1 180 253.8" stroke-width="1.77"/>
<path d="M131.9 223.8C131.7 226.1 130.6 233.1 130.6 237.5C130.6 241.9 130.9 246 131.9 250C132.9 254 134.5 258.8 136.3 261.3C138.1 263.8 139.4 264.6 142.5 265C145.6 265.4 150.8 265.1 155 263.8C159.2 262.6 163.3 259.5 167.5 257.5C171.7 255.5 177.9 252.8 180 251.9" stroke-width="1.46"/>
<path d="M126 232C126 234.5 125.4 242.5 126 247C126.6 251.5 128.2 255.5 129.5 259C130.8 262.5 132.2 266.1 134 268C135.8 269.9 139 270.1 140 270.5" stroke-width="0.83"/>
<path d="M133.5 262C134.6 262.9 136.9 266.7 140 267.5C143.1 268.3 147.7 268.3 152 267C156.3 265.7 161.3 262.2 166 259.8C170.7 257.4 177.7 254 180 252.8" stroke-width="0.83"/>
<path d="M130 220.6L136.3 224.4L135.5 226.5L129.5 223" stroke-width="0.94"/>
<path d="M148.8 204.5 L158.8 211.3 Q164 215.5 160.5 220.5 Q159 222.5 156 224.5 L131.5 240.5" stroke-width="1.77"/>
<path d="M148.8 198.8L150 202.5" stroke-width="0.94"/>
<path d="M150 202.5L182.5 225" stroke-width="1.04"/>
<path d="M166.3 193.8L196.7 210" stroke-width="1.04"/>
<path d="M183.3 224.5C183.8 223.5 184.6 220.2 186 218.5C187.4 216.8 189.9 215.1 192 214C194.1 212.9 196.7 211.8 198.3 211.7C199.9 211.6 201.1 213 201.7 213.3" stroke-width="1.25"/>
<path d="M184 238.5L181.5 228.5L198.5 218L201 228L184 238.5" stroke-width="1.14" fill="#fff"/>
<path d="M198.5 218L201.5 228" stroke-width="0.94"/>
<path d="M182.5 230.5L197 221.5L198.5 226.5L184.5 235.5Z" stroke-width="1.04"/>
<path d="M184 232L197 224" stroke-width="0.73"/>
<path d="M181.5 228.5L167 237L168 239.5L183 246.5L184.5 247" stroke-width="1.04"/>
<path d="M180 244L184 242L184 238.5" stroke-width="1.04"/>
<path d="M201 228L220 236.5L203 247L184.5 238.8" stroke-width="1.14"/>
<path d="M203 247L202.5 250.5L201 252" stroke-width="1.04"/>
<path d="M185 241L201.5 249" stroke-width="1.04"/>
<path d="M183 246.5L181.5 253L182.5 256.5L185 257.5L199 250.5L201 252" stroke-width="1.14"/>
<path d="M217 238.5L225.5 242.5L225.2 244.5L213 252L205 248" stroke-width="1.14"/>
<path d="M209 246L217 241L222 243.5L214 248.5Z" stroke-width="0.94"/>
<path d="M225.2 244.5L213 250.3" stroke-width="0.73"/>
</g>
<path d="M390.6 190.2C390.6 189.5 390.8 187.5 390.7 186.2C390.7 184.9 390.6 183.7 390.4 182.6C390.2 181.4 389.9 180.3 389.6 179.3C389.3 178.3 388.8 177.3 388.4 176.4C387.9 175.5 387.3 174.7 386.7 174C386 173.3 385.3 172.7 384.6 172.1C383.8 171.6 383 171.1 382.1 170.7C381.2 170.4 380.3 170.1 379.3 169.9C378.3 169.7 377.3 169.6 376.2 169.6C375.1 169.6 374 169.7 372.8 169.9C371.6 170.1 370.4 170.4 369.2 170.8C368 171.1 366.8 171.6 365.5 172.1C364.2 172.7 362.9 173.3 361.7 174C360.4 174.8 359.1 175.6 357.8 176.4C356.5 177.3 355.2 178.3 353.9 179.3C352.6 180.3 351.3 181.4 350.1 182.6C348.9 183.7 347.6 185 346.4 186.2C345.2 187.5 344.1 188.8 342.9 190.2C341.8 191.6 340.7 193 339.7 194.4C338.6 195.9 337.6 197.4 336.7 198.9C335.7 200.4 334.8 201.9 334 203.4C333.2 205 332.4 206.5 331.7 208C331 209.6 330.3 211.1 329.8 212.7C329.2 214.2 328.7 215.7 328.3 217.2C327.8 218.7 327.5 220.2 327.2 221.7C326.9 223.1 326.7 224.5 326.6 225.9C326.5 227.2 326.4 228.6 326.5 229.8C326.5 231.1 326.6 232.3 326.8 233.5C327 234.6 327.3 235.7 327.6 236.8C327.9 237.8 328.4 238.7 328.9 239.6C329.3 240.5 329.9 241.3 330.5 242C331.2 242.7 331.9 243.4 332.6 243.9C333.4 244.4 334.2 244.9 335.1 245.3C336 245.6 336.9 245.9 337.9 246.1C338.9 246.3 340 246.4 341.1 246.4C342.1 246.4 343.3 246.3 344.4 246.1C345.6 245.9 346.8 245.6 348 245.2C349.2 244.9 350.5 244.4 351.8 243.8C353 243.3 354.3 242.7 355.6 241.9C356.9 241.2 358.8 239.9 359.5 239.5" stroke-width="2.08"/>
<g id="fan">
<path d="M429.6 185.2C429 185.1 427.5 184.6 426.4 184.4C425.3 184.2 424.2 184.1 423 184C421.9 183.9 420.7 183.8 419.5 183.8C418.3 183.9 417.1 183.9 415.9 184.1C414.6 184.2 413.4 184.4 412.1 184.6C410.9 184.9 409.6 185.1 408.3 185.5C407 185.8 405.8 186.2 404.5 186.7C403.2 187.1 401.9 187.7 400.6 188.2C399.3 188.8 398.1 189.4 396.8 190C395.5 190.7 394.3 191.4 393 192.1C391.8 192.9 390.5 193.7 389.3 194.5C388.1 195.3 386.9 196.2 385.7 197.1C384.5 198 383.4 199 382.3 200C381.1 201 380 202 379 203.1C377.9 204.1 376.8 205.2 375.8 206.3C374.8 207.4 373.9 208.6 372.9 209.7C372 210.9 371.1 212.1 370.3 213.3C369.4 214.5 368.6 215.7 367.9 217C367.1 218.2 366.4 219.4 365.7 220.7C365 222 364.4 223.2 363.9 224.5C363.3 225.8 362.8 227 362.3 228.3C361.8 229.6 361.4 230.9 361.1 232.1C360.7 233.4 360.4 234.7 360.1 235.9C359.9 237.2 359.7 238.4 359.6 239.6C359.4 240.8 359.3 242.1 359.3 243.2C359.3 244.4 359.3 245.6 359.4 246.7C359.5 247.9 359.6 249 359.8 250.1C360 251.2 360.3 252.2 360.6 253.3C360.9 254.3 361.2 255.3 361.7 256.3C362.1 257.2 362.5 258.1 363.1 259C363.6 259.9 364.1 260.7 364.8 261.5C365.4 262.3 366.1 263.1 366.8 263.8C367.5 264.5 368.3 265.2 369.1 265.8C369.9 266.4 370.7 267 371.6 267.5C372.5 268 373.4 268.4 374.4 268.9C375.4 269.3 376.4 269.6 377.4 269.9C378.4 270.2 379.5 270.5 380.6 270.7C381.7 270.9 382.9 271 384 271.1C385.2 271.1 386.3 271.2 387.5 271.1C388.7 271.1 390.6 270.9 391.2 270.9" stroke-width="1.35"/>
<path d="M429.6 187.2C429.1 187.1 427.6 186.6 426.5 186.4C425.5 186.3 424.4 186.1 423.3 186C422.2 185.9 421.1 185.9 419.9 185.9C418.8 186 417.6 186 416.4 186.2C415.2 186.3 414 186.5 412.8 186.7C411.6 186.9 410.4 187.2 409.1 187.6C407.9 187.9 406.7 188.3 405.4 188.8C404.2 189.2 403 189.7 401.7 190.2C400.5 190.8 399.3 191.4 398 192C396.8 192.6 395.6 193.3 394.4 194C393.2 194.8 392 195.5 390.8 196.3C389.6 197.1 388.5 198 387.3 198.9C386.2 199.8 385.1 200.7 384 201.7C382.9 202.6 381.8 203.6 380.8 204.6C379.8 205.6 378.8 206.7 377.8 207.8C376.8 208.8 375.9 209.9 375 211.1C374.1 212.2 373.2 213.3 372.4 214.5C371.6 215.7 370.8 216.8 370.1 218C369.3 219.2 368.6 220.4 368 221.7C367.3 222.9 366.7 224.1 366.2 225.3C365.6 226.5 365.1 227.8 364.7 229C364.2 230.2 363.8 231.5 363.4 232.7C363.1 233.9 362.8 235.1 362.5 236.3C362.3 237.5 362.1 238.7 362 239.9C361.8 241.1 361.7 242.2 361.7 243.4C361.7 244.5 361.7 245.6 361.8 246.7C361.8 247.8 362 248.9 362.2 250C362.3 251 362.6 252 362.9 253C363.2 254 363.5 255 363.9 255.9C364.3 256.8 364.7 257.7 365.2 258.5C365.7 259.4 366.3 260.2 366.9 260.9C367.4 261.7 368.1 262.4 368.8 263.1C369.5 263.8 370.2 264.4 371 265C371.7 265.6 372.6 266.1 373.4 266.6C374.3 267.1 375.2 267.5 376.1 267.9C377 268.3 378 268.6 379 268.9C380 269.2 381 269.4 382.1 269.6C383.1 269.8 384.2 269.9 385.3 270C386.4 270.1 387.6 270.1 388.7 270.1C389.9 270 391.6 269.8 392.2 269.8" stroke-width="1.04"/>
<path d="M422.8 186L452.7 197.1L447.9 208.2L417.9 196.9Z" stroke-width="0.94" fill="#fff"/>
<path d="M422.8 186L452.7 197.1" stroke-width="1.87"/>
<path d="M433.6 188.8L463.1 199.9" stroke-width="0.94"/>
<path d="M441.6 195.4L470.7 206.7" stroke-width="0.94"/>
<path d="M445.9 205.2L474.7 216.8" stroke-width="0.94"/>
<path d="M446.1 217.2L474.2 229.1" stroke-width="0.94"/>
<path d="M442.2 230.3L469.3 242" stroke-width="0.94"/>
<path d="M434.5 243.2L461.2 254.1" stroke-width="0.94"/>
<path d="M423.9 254.6L450.9 264.4" stroke-width="0.94"/>
<path d="M411.4 263.4L439.5 272.2" stroke-width="0.94"/>
<path d="M398.1 268.7L427.9 277.2" stroke-width="0.94"/>
<path d="M385.4 270L417 278.6" stroke-width="0.94"/>
<path d="M374.6 267.2L407.6 276.1L414.6 266.7L382.2 257Z" stroke-width="0.94" fill="#fff"/>
<path d="M374.6 267.2L407.6 276.1" stroke-width="1.87"/>
<path d="M366.6 260.6L400.9 270.1L409.6 262.2L376.4 252.1Z" stroke-width="0.94" fill="#fff"/>
<path d="M366.6 260.6L400.9 270.1" stroke-width="1.87"/>
<path d="M362.3 250.8L396.7 261.4L406.5 255.8L373.2 244.9Z" stroke-width="0.94" fill="#fff"/>
<path d="M362.3 250.8L396.7 261.4" stroke-width="1.87"/>
<path d="M362.1 238.8L395.9 250.2L405.9 247.5L373 236Z" stroke-width="0.94" fill="#fff"/>
<path d="M362.1 238.8L395.9 250.2" stroke-width="1.87"/>
<path d="M366 225.7L398.8 237.4L408 238L375.9 226.3Z" stroke-width="0.94" fill="#fff"/>
<path d="M366 225.7L398.8 237.4" stroke-width="1.87"/>
<path d="M373.7 212.8L405.4 224.2L412.9 228.3L381.6 216.7Z" stroke-width="0.94" fill="#fff"/>
<path d="M373.7 212.8L405.4 224.2" stroke-width="1.87"/>
<path d="M384.3 201.4L415.6 212.6L420.4 219.7L389.4 208.3Z" stroke-width="0.94" fill="#fff"/>
<path d="M384.3 201.4L415.6 212.6" stroke-width="1.87"/>
<path d="M396.8 192.6L427.7 203.7L429.4 213.1L398.7 201.8Z" stroke-width="0.94" fill="#fff"/>
<path d="M396.8 192.6L427.7 203.7" stroke-width="1.87"/>
<path d="M410.1 187.3L440.5 198.4L438.9 209.1L408.5 197.9Z" stroke-width="0.94" fill="#fff"/>
<path d="M410.1 187.3L440.5 198.4" stroke-width="1.87"/>
<path d="M462.5 207.6C463.3 208.4 464.1 209.3 464.8 210.2C465.5 211.2 466.1 212.2 466.6 213.3C467.2 214.4 467.6 215.6 467.9 216.8C468.2 218.1 468.5 219.4 468.6 220.8C468.7 222.1 468.7 223.6 468.7 225C468.6 226.5 468.4 228 468.2 229.5C467.9 231 467.5 232.6 467.1 234.2C466.6 235.8 466.1 237.4 465.4 238.9C464.8 240.5 464.1 242.1 463.2 243.7C462.4 245.3 461.5 246.9 460.6 248.4C459.6 250 458.5 251.5 457.4 253C456.3 254.5 455.1 255.9 453.9 257.3C452.6 258.7 451.3 260 450 261.3C448.6 262.6 447.2 263.8 445.8 265C444.4 266.1 442.9 267.2 441.5 268.2C440 269.2 438.5 270.1 437 270.9C435.5 271.7 433.9 272.5 432.4 273.1C430.9 273.7 429.4 274.3 427.9 274.7C426.4 275.1 424.9 275.5 423.5 275.7C422.1 276 420.6 276.1 419.3 276.1C417.9 276.2 416.6 276.1 415.3 275.9C414 275.7 412.8 275.4 411.6 275C410.5 274.7 409.4 274.2 408.4 273.6C407.3 273 406.4 272.3 405.5 271.6C404.7 270.8 403.9 269.9 403.2 269C402.5 268 401.9 267 401.4 265.9C400.8 264.8 400.4 263.6 400.1 262.4C399.8 261.1 399.5 259.8 399.4 258.4C399.3 257.1 399.3 255.6 399.3 254.2C399.4 252.7 399.6 251.2 399.8 249.7C400.1 248.2 400.5 246.6 400.9 245C401.4 243.4 401.9 241.8 402.6 240.3C403.2 238.7 403.9 237.1 404.8 235.5C405.6 233.9 406.5 232.3 407.4 230.8C408.4 229.2 409.5 227.7 410.6 226.2C411.7 224.7 412.9 223.3 414.1 221.9C415.4 220.5 416.7 219.2 418 217.9C419.4 216.6 420.8 215.4 422.2 214.2C423.6 213.1 425.1 212 426.5 211C428 210 429.5 209.1 431 208.3C432.5 207.5 434.1 206.7 435.6 206.1C437.1 205.5 438.6 204.9 440.1 204.5C441.6 204.1 443.1 203.7 444.5 203.5C445.9 203.2 447.4 203.1 448.7 203.1C450.1 203 451.4 203.1 452.7 203.3C454 203.5 455.2 203.8 456.4 204.2C457.5 204.5 458.6 205 459.6 205.6C460.7 206.2 461.6 206.9 462.5 207.6Z" stroke-width="1.25" fill="#fff"/>
<path d="M452.7 197.1L453.5 203.4" stroke-width="1.87"/>
<path d="M463.1 199.9L461.4 206.8" stroke-width="1.87"/>
<path d="M470.7 206.7L466.7 213.4" stroke-width="1.87"/>
<path d="M474.7 216.8L468.7 222.5" stroke-width="1.87"/>
<path d="M474.2 229.1L467.3 233.3" stroke-width="1.87"/>
<path d="M469.3 242L462.7 244.7" stroke-width="1.87"/>
<path d="M461.2 254.1L455.3 255.7" stroke-width="1.87"/>
<path d="M450.9 264.4L445.8 265" stroke-width="1.87"/>
<path d="M439.5 272.2L435.1 271.9" stroke-width="1.87"/>
<path d="M427.9 277.2L424.3 275.6" stroke-width="1.87"/>
<path d="M417 278.6L414.5 275.8" stroke-width="1.87"/>
<path d="M407.6 276.1L406.6 272.4" stroke-width="1.87"/>
<path d="M400.9 270.1L401.3 265.8" stroke-width="1.87"/>
<path d="M396.7 261.4L399.3 256.7" stroke-width="1.87"/>
<path d="M395.9 250.2L400.7 245.9" stroke-width="1.87"/>
<path d="M398.8 237.4L405.3 234.5" stroke-width="1.87"/>
<path d="M405.4 224.2L412.7 223.5" stroke-width="1.87"/>
<path d="M415.6 212.6L422.2 214.2" stroke-width="1.87"/>
<path d="M427.7 203.7L432.9 207.3" stroke-width="1.87"/>
<path d="M440.5 198.4L443.7 203.6" stroke-width="1.87"/>
<path d="M450.4 213.3C451.1 213.9 451.6 214.6 452.1 215.3C452.6 216 453.1 216.8 453.4 217.7C453.8 218.5 454.1 219.4 454.3 220.3C454.5 221.3 454.6 222.3 454.7 223.3C454.7 224.3 454.7 225.4 454.7 226.4C454.6 227.5 454.4 228.6 454.2 229.8C453.9 230.9 453.6 232 453.3 233.2C452.9 234.4 452.4 235.5 451.9 236.7C451.4 237.9 450.8 239 450.2 240.2C449.5 241.3 448.8 242.5 448.1 243.6C447.3 244.7 446.5 245.8 445.6 246.9C444.7 247.9 443.8 249 442.9 250C441.9 251 440.9 251.9 439.9 252.8C438.8 253.8 437.8 254.6 436.7 255.4C435.6 256.2 434.5 257 433.4 257.7C432.3 258.4 431.1 259 430 259.6C428.8 260.1 427.7 260.6 426.5 261.1C425.4 261.5 424.3 261.8 423.1 262.1C422 262.4 420.9 262.6 419.8 262.7C418.8 262.9 417.7 262.9 416.7 262.9C415.7 262.9 414.7 262.8 413.7 262.6C412.8 262.4 411.9 262.2 411 261.9C410.2 261.5 409.4 261.1 408.6 260.7C407.9 260.2 407.2 259.7 406.6 259.1C405.9 258.5 405.4 257.8 404.9 257.1C404.4 256.4 403.9 255.6 403.6 254.7C403.2 253.9 402.9 253 402.7 252.1C402.5 251.1 402.4 250.1 402.3 249.1C402.3 248.1 402.3 247 402.3 246C402.4 244.9 402.6 243.8 402.8 242.6C403.1 241.5 403.4 240.4 403.7 239.2C404.1 238 404.6 236.9 405.1 235.7C405.6 234.5 406.2 233.4 406.8 232.2C407.5 231.1 408.2 229.9 408.9 228.8C409.7 227.7 410.5 226.6 411.4 225.5C412.3 224.5 413.2 223.4 414.1 222.4C415.1 221.4 416.1 220.5 417.1 219.6C418.2 218.6 419.2 217.8 420.3 217C421.4 216.2 422.5 215.4 423.6 214.7C424.7 214 425.9 213.4 427 212.8C428.2 212.3 429.3 211.8 430.5 211.3C431.6 210.9 432.7 210.6 433.9 210.3C435 210 436.1 209.8 437.2 209.7C438.2 209.5 439.3 209.5 440.3 209.5C441.3 209.5 442.3 209.6 443.3 209.8C444.2 210 445.1 210.2 446 210.5C446.8 210.9 447.6 211.3 448.4 211.7C449.1 212.2 449.8 212.7 450.4 213.3Z" stroke-width="1.87"/>
<path d="M449.3 215.2C449.9 215.8 450.4 216.4 450.9 217C451.3 217.7 451.7 218.4 452 219.2C452.4 220 452.6 220.8 452.8 221.7C453 222.5 453.1 223.5 453.2 224.4C453.2 225.3 453.2 226.3 453.1 227.3C453.1 228.3 452.9 229.4 452.7 230.4C452.5 231.4 452.2 232.5 451.8 233.6C451.5 234.7 451 235.7 450.5 236.8C450.1 237.9 449.5 239 448.9 240.1C448.3 241.1 447.7 242.2 446.9 243.2C446.2 244.3 445.5 245.3 444.7 246.3C443.9 247.3 443 248.2 442.1 249.2C441.2 250.1 440.3 251 439.3 251.8C438.4 252.7 437.4 253.5 436.4 254.2C435.4 255 434.3 255.7 433.3 256.4C432.2 257 431.2 257.6 430.1 258.1C429.1 258.6 428 259.1 426.9 259.5C425.9 259.9 424.8 260.2 423.8 260.5C422.8 260.8 421.7 261 420.7 261.1C419.7 261.2 418.8 261.3 417.8 261.3C416.9 261.3 416 261.2 415.1 261C414.2 260.9 413.4 260.6 412.6 260.3C411.8 260.1 411.1 259.7 410.4 259.3C409.7 258.8 409.1 258.3 408.5 257.8C407.9 257.2 407.4 256.6 406.9 256C406.5 255.3 406.1 254.6 405.8 253.8C405.4 253 405.2 252.2 405 251.3C404.8 250.5 404.7 249.5 404.6 248.6C404.6 247.7 404.6 246.7 404.7 245.7C404.7 244.7 404.9 243.6 405.1 242.6C405.3 241.6 405.6 240.5 406 239.4C406.3 238.3 406.8 237.3 407.3 236.2C407.7 235.1 408.3 234 408.9 232.9C409.5 231.9 410.1 230.8 410.9 229.8C411.6 228.7 412.3 227.7 413.1 226.7C413.9 225.7 414.8 224.8 415.7 223.8C416.6 222.9 417.5 222 418.5 221.2C419.4 220.3 420.4 219.5 421.4 218.8C422.4 218 423.5 217.3 424.5 216.6C425.6 216 426.6 215.4 427.7 214.9C428.7 214.4 429.8 213.9 430.9 213.5C431.9 213.1 433 212.8 434 212.5C435 212.2 436.1 212 437.1 211.9C438.1 211.8 439 211.7 440 211.7C440.9 211.7 441.8 211.8 442.7 212C443.6 212.1 444.4 212.4 445.2 212.7C446 212.9 446.7 213.3 447.4 213.7C448.1 214.2 448.7 214.7 449.3 215.2Z" stroke-width="1.04"/>
<path d="M448.3 217C448.9 217.5 449.3 218 449.8 218.6C450.2 219.3 450.5 219.9 450.8 220.7C451.1 221.4 451.4 222.1 451.6 222.9C451.7 223.7 451.8 224.6 451.9 225.5C451.9 226.3 451.9 227.2 451.8 228.2C451.7 229.1 451.6 230.1 451.4 231C451.2 232 450.9 233 450.6 234C450.2 235 449.8 236 449.4 237C448.9 238 448.4 239 447.9 240C447.3 241 446.7 242 446 243C445.3 243.9 444.6 244.9 443.9 245.8C443.1 246.7 442.3 247.6 441.5 248.5C440.7 249.4 439.8 250.2 438.9 251C438 251.8 437.1 252.5 436.2 253.2C435.2 253.9 434.3 254.6 433.3 255.2C432.3 255.8 431.3 256.4 430.3 256.9C429.4 257.3 428.4 257.8 427.4 258.2C426.4 258.5 425.4 258.9 424.5 259.1C423.5 259.4 422.6 259.5 421.6 259.7C420.7 259.8 419.8 259.8 418.9 259.8C418 259.8 417.2 259.8 416.4 259.6C415.6 259.5 414.8 259.3 414.1 259C413.3 258.7 412.7 258.4 412 258C411.4 257.6 410.8 257.2 410.3 256.6C409.7 256.1 409.3 255.6 408.8 255C408.4 254.3 408.1 253.7 407.8 252.9C407.5 252.2 407.2 251.5 407 250.7C406.9 249.9 406.8 249 406.7 248.1C406.7 247.3 406.7 246.4 406.8 245.4C406.9 244.5 407 243.5 407.2 242.6C407.4 241.6 407.7 240.6 408 239.6C408.4 238.6 408.8 237.6 409.2 236.6C409.7 235.6 410.2 234.6 410.7 233.6C411.3 232.6 411.9 231.6 412.6 230.6C413.3 229.7 414 228.7 414.7 227.8C415.5 226.9 416.3 226 417.1 225.1C417.9 224.2 418.8 223.4 419.7 222.6C420.6 221.8 421.5 221.1 422.4 220.4C423.4 219.7 424.3 219 425.3 218.4C426.3 217.8 427.3 217.2 428.3 216.7C429.2 216.3 430.2 215.8 431.2 215.4C432.2 215.1 433.2 214.7 434.1 214.5C435.1 214.2 436 214.1 437 213.9C437.9 213.8 438.8 213.8 439.7 213.8C440.6 213.8 441.4 213.8 442.2 214C443 214.1 443.8 214.3 444.5 214.6C445.3 214.9 445.9 215.2 446.6 215.6C447.2 216 447.8 216.4 448.3 217Z" stroke-width="1.25"/>
<path d="M446.2 219.8C446.7 220.2 447.1 220.7 447.4 221.3C447.8 221.8 448.1 222.4 448.3 223C448.5 223.7 448.7 224.3 448.8 225C449 225.7 449 226.4 449.1 227.2C449.1 228 449 228.7 448.9 229.5C448.8 230.3 448.7 231.2 448.5 232C448.3 232.9 448 233.7 447.7 234.6C447.4 235.4 447 236.3 446.6 237.2C446.1 238 445.7 238.9 445.2 239.7C444.6 240.6 444.1 241.4 443.5 242.3C442.9 243.1 442.2 243.9 441.6 244.7C440.9 245.5 440.2 246.3 439.4 247C438.7 247.7 437.9 248.4 437.1 249.1C436.3 249.8 435.5 250.4 434.7 251C433.8 251.6 433 252.2 432.1 252.7C431.3 253.2 430.4 253.7 429.5 254.1C428.7 254.5 427.8 254.8 426.9 255.2C426.1 255.5 425.2 255.7 424.4 255.9C423.5 256.1 422.7 256.3 421.9 256.4C421.1 256.5 420.3 256.5 419.6 256.5C418.8 256.5 418.1 256.4 417.4 256.3C416.7 256.1 416 255.9 415.4 255.7C414.8 255.5 414.2 255.2 413.6 254.8C413.1 254.5 412.6 254.1 412.2 253.6C411.7 253.2 411.3 252.7 411 252.1C410.6 251.6 410.3 251 410.1 250.4C409.9 249.7 409.7 249.1 409.6 248.4C409.4 247.7 409.4 247 409.3 246.2C409.3 245.4 409.4 244.7 409.5 243.9C409.6 243.1 409.7 242.2 409.9 241.4C410.1 240.5 410.4 239.7 410.7 238.8C411 238 411.4 237.1 411.8 236.2C412.3 235.4 412.7 234.5 413.2 233.7C413.8 232.8 414.3 232 414.9 231.1C415.5 230.3 416.2 229.5 416.8 228.7C417.5 227.9 418.2 227.1 419 226.4C419.7 225.7 420.5 225 421.3 224.3C422.1 223.6 422.9 223 423.7 222.4C424.6 221.8 425.4 221.2 426.3 220.7C427.1 220.2 428 219.7 428.9 219.3C429.7 218.9 430.6 218.6 431.5 218.2C432.3 217.9 433.2 217.7 434 217.5C434.9 217.3 435.7 217.1 436.5 217C437.3 216.9 438.1 216.9 438.8 216.9C439.6 216.9 440.3 217 441 217.1C441.7 217.3 442.4 217.5 443 217.7C443.6 217.9 444.2 218.2 444.8 218.6C445.3 218.9 445.8 219.3 446.2 219.8Z" stroke-width="1.25"/>
<path d="M445.5 221.5C445.9 221.9 446.2 222.3 446.5 222.8C446.8 223.3 447.1 223.8 447.3 224.4C447.5 225 447.7 225.6 447.8 226.2C447.9 226.9 448 227.5 448 228.2C448 228.9 448 229.7 447.9 230.4C447.8 231.1 447.6 231.9 447.4 232.7C447.2 233.4 447 234.2 446.7 235C446.4 235.8 446 236.6 445.6 237.4C445.2 238.2 444.8 239 444.3 239.8C443.8 240.6 443.3 241.3 442.8 242.1C442.2 242.9 441.6 243.6 441 244.3C440.4 245.1 439.7 245.8 439 246.5C438.3 247.1 437.6 247.8 436.9 248.4C436.1 249 435.4 249.6 434.6 250.2C433.8 250.7 433.1 251.3 432.3 251.7C431.5 252.2 430.7 252.6 429.9 253C429.1 253.4 428.3 253.8 427.5 254.1C426.7 254.3 425.9 254.6 425.1 254.8C424.4 255 423.6 255.1 422.9 255.2C422.1 255.3 421.4 255.3 420.7 255.3C420 255.3 419.3 255.3 418.7 255.1C418.1 255 417.5 254.9 416.9 254.6C416.3 254.4 415.8 254.1 415.3 253.8C414.8 253.5 414.4 253.2 413.9 252.7C413.5 252.3 413.2 251.9 412.9 251.4C412.6 250.9 412.3 250.4 412.1 249.8C411.9 249.2 411.7 248.6 411.6 248C411.5 247.3 411.4 246.7 411.4 246C411.4 245.3 411.4 244.5 411.5 243.8C411.6 243.1 411.8 242.3 412 241.5C412.2 240.8 412.4 240 412.7 239.2C413 238.4 413.4 237.6 413.8 236.8C414.2 236 414.6 235.2 415.1 234.4C415.6 233.6 416.1 232.9 416.6 232.1C417.2 231.3 417.8 230.6 418.4 229.9C419 229.1 419.7 228.4 420.4 227.7C421.1 227.1 421.8 226.4 422.5 225.8C423.3 225.2 424 224.6 424.8 224C425.6 223.5 426.3 222.9 427.1 222.5C427.9 222 428.7 221.6 429.5 221.2C430.3 220.8 431.1 220.4 431.9 220.1C432.7 219.9 433.5 219.6 434.3 219.4C435 219.2 435.8 219.1 436.5 219C437.3 218.9 438 218.9 438.7 218.9C439.4 218.9 440.1 218.9 440.7 219.1C441.3 219.2 441.9 219.3 442.5 219.6C443.1 219.8 443.6 220.1 444.1 220.4C444.6 220.7 445 221 445.5 221.5Z" stroke-width="0.94"/>
<ellipse cx="421.4" cy="227.2" rx="2.7" ry="3" stroke-width="1.25" fill="#fff"/>
<ellipse cx="420.3" cy="226.5" rx="2.2" ry="2.5" stroke-width="0.94"/>
<ellipse cx="441.6" cy="228.6" rx="5.4" ry="3.9" transform="rotate(-15 441.6 228.6)" stroke-width="1.14"/>
<ellipse cx="445.4" cy="228.6" rx="2.7" ry="3.2" stroke-width="1.25" fill="#fff"/>
<ellipse cx="443.9" cy="228.4" rx="2.4" ry="2.9" stroke-width="0.94"/>
<ellipse cx="418.2" cy="252.2" rx="2.8" ry="3.1" stroke-width="1.25" fill="#fff"/>
<ellipse cx="416.7" cy="251.2" rx="2.5" ry="2.8" stroke-width="0.94"/>
<ellipse cx="422.7" cy="234.5" rx="3.5" ry="2.6" transform="rotate(-30 422.7 234.5)" stroke-width="1.14"/>
</g>
<g id="plate">
<path d="M589.2 233C588.2 232.6 585.9 231.5 583.3 230.8C580.6 230.1 577.2 229.2 573.3 228.8C569.4 228.4 564.4 227.9 560 228.3C555.6 228.7 551.1 229.7 546.7 231C542.3 232.3 538.1 234.1 533.5 236.3C528.9 238.5 523.4 241.6 519 244.3C514.6 247 510.3 250.1 507.3 252.6C504.3 255.1 502.6 257.4 501.2 259.5C499.8 261.6 499.1 262.8 499.2 265C499.3 267.2 500.2 270 501.7 272.5C503.2 275 505.2 277.6 508.3 280C511.4 282.4 515.5 284.9 520 286.7C524.5 288.5 528.9 289.8 535 290.8C541.1 291.9 550.3 292.7 556.7 293C563.1 293.3 569.3 292.5 573.3 292.6C577.3 292.7 577.5 292.7 580.9 293.6C584.3 294.5 589.4 296.2 593.6 298.1C597.8 300.1 602 302.7 606.2 305.3C610.4 307.9 615.6 311.5 618.9 313.5C622.2 315.5 623.9 316.6 626.2 317.5C628.5 318.4 630.4 318.7 632.5 318.6C634.6 318.5 635.6 318.6 638.8 317.1C642 315.7 645.5 313.5 651.5 309.9C657.5 306.3 669.7 299 675.1 295.4C680.5 291.8 682.6 289.3 684.1 288.1 Q690 283 688 280.6 Q686.5 278.2 678.5 275 Q676.5 273.8 678.7 272.1 L688 266 Q691 262.5 688 259.6 L655.1 245.8 L642.5 252.1 Q636 254 635.2 249.6 Q635.5 247 643 244.2 Q645.5 242.5 644.3 241.3 L618.9 230.4 L608.9 225 Q606.5 223.8 604.5 224.8 Z" stroke-width="1.3"/>
<path d="M583.3 248.9L618.4 229.9" stroke-width="2.08"/>
<path d="M581.5 247.3L616.6 228.6" stroke-width="0.83"/>
<ellipse cx="569.2" cy="241.9" rx="11.2" ry="5.9" stroke-width="1.14"/>
<ellipse cx="569.2" cy="241.9" rx="9.6" ry="4.9" stroke-width="0.94"/>
<ellipse cx="570" cy="241.5" rx="5.8" ry="3.3" stroke-width="1.25"/>
<path d="M577.5 245.3L582.7 249.4" stroke-width="1.04"/>
<path d="M579.5 243.8L584 247.5" stroke-width="1.04"/>
<ellipse cx="555.8" cy="273.7" rx="3.9" ry="2.4" transform="rotate(-8 555.8 273.7)" stroke-width="1.14"/>
<path d="M588.1 255.8C588.9 255 591.8 253.2 593.6 253C595.4 252.8 597.1 254.7 599 254.9C600.9 255.1 602.9 254.3 605 254C607.1 253.7 608.5 253.3 611.7 253C614.9 252.7 620.7 251.6 624.3 252.1C627.9 252.6 630.8 254.1 633.4 255.8C636 257.5 637.7 260.6 639.8 262.1C641.9 263.6 643.9 264.2 646.1 264.8C648.4 265.4 651.8 265.1 653.3 265.7C654.8 266.3 655.7 267.5 655.1 268.4C654.5 269.3 651.8 270.4 649.7 271.2C647.6 272 645.5 271.5 642.5 273C639.5 274.5 634.9 278.4 631.6 280.2C628.3 282 625.2 283.6 622.5 283.8C619.8 284 617.7 282.2 615.3 281.1C612.9 280.1 610.4 277.8 608 277.5C605.6 277.2 602.8 279.3 600.8 279.3C598.8 279.3 597.2 278.4 596.3 277.5C595.4 276.6 594.5 275.1 595.4 273.9C596.3 272.7 600.2 271.5 601.7 270.3C603.2 269.1 604.5 268.2 604.4 266.5C604.2 264.8 602.3 261.6 600.8 260.3C599.3 259 597.4 258.9 595.4 258.5C593.4 258.1 590.2 258.1 589 257.6C587.8 257.2 587.3 256.6 588.1 255.8Z" stroke-width="1.35"/>
</g>
<g id="box">
<path d="M321.7 291.7C323.1 291.7 324.2 289.7 330 291.5C335.8 293.3 352.2 300.7 356.7 302.5" stroke-width="1.14"/>
<path d="M356.7 302.5C357 303.1 357.5 304.7 358.3 305.8C359.1 306.9 359.8 308.2 361.7 309.2C363.6 310.2 367.8 311.4 370 311.7C372.2 312 373.3 310.5 375 310.8C376.7 311.1 377.5 312.6 380 313.3C382.5 314 387.2 313.8 390 315C392.8 316.2 394.2 318.6 396.7 320.8C399.2 323 403.6 327.1 405 328.3" stroke-width="1.14"/>
<path d="M374.2 310.8L317.5 343.3" stroke-width="1.14"/>
<path d="M253.5 339.5C253.9 339 254.7 337.5 255.8 336.5C256.9 335.5 258.5 334 260 333.3C261.5 332.6 260.8 330.8 265 332.5C269.2 334.2 277.8 339.6 285 343.3C292.2 347.1 303.3 352.9 308.3 355C313.3 357.1 311.8 356.9 315 355.8C318.2 354.8 325.4 349.9 327.5 348.7" stroke-width="1.25"/>
<path d="M254.2 340C254.6 340.8 252.9 342.4 256.7 345C260.4 347.6 270.6 352.8 276.7 355.8C282.8 358.9 288.6 361.2 293.3 363.3C298 365.4 301.7 366.4 305 368.3C308.3 370.2 310.7 372.6 313.3 375C315.9 377.4 318.3 379.5 320.8 383C323.3 386.5 326.4 392 328.1 396C329.9 400 330.8 403.9 331.3 407C331.8 410.1 331.3 413.5 331.3 414.8" stroke-width="1.14"/>
<path d="M252.8 348L248.3 350.8L250.8 354.2L281 368.6" stroke-width="1.25"/>
<path d="M252.8 348C255.3 349.4 262.8 353.6 268 356.5C273.2 359.4 278.4 361.3 284 365.5C289.6 369.7 296.8 377.1 301.7 381.7C306.6 386.3 310.2 390.8 313.3 393.3C316.4 395.8 319.3 396.2 320.5 396.8" stroke-width="1.14"/>
<path d="M281 368.6C282.5 370.2 286 374.1 290 378C294 381.9 300.8 388.5 305 391.7C309.2 394.9 312.4 396.4 315 397.3C317.6 398.2 319.6 396.9 320.5 396.8" stroke-width="1.25"/>
<path d="M283 366L279 370" stroke-width="0.83"/>
<path d="M255 357C255.3 359.2 255.8 365.5 256.7 370C257.6 374.5 258 379.1 260.4 384C262.8 388.9 265.6 393.9 270.8 399.2C276 404.5 286.5 411.6 291.7 415.8C296.9 420 298.6 422.4 302.1 424.2C305.6 426 309 425.6 312.5 426.5C316 427.4 319.6 428 322.9 429.4C326.2 430.8 329.5 433.7 332.3 434.6C335.1 435.5 338.4 434.9 339.6 435" stroke-width="1.14"/>
<path d="M339.6 435L415 388.5" stroke-width="1.14"/>
<ellipse cx="282.6" cy="383.2" rx="13.2" ry="8.6" transform="rotate(47 282.6 383.2)" stroke-width="1.35"/>
<ellipse cx="283.2" cy="383" rx="12.2" ry="7.6" transform="rotate(47 283.2 383)" stroke-width="0.83"/>
<path d="M330.2 414.8 L331.3 430.4 Q332 432.8 334.4 432.5 L372.9 411.7 Q375 410 375 407.5 L375 394 Z" stroke-width="1.25"/>
<path d="M332.9 430.2L332.4 415" stroke-width="0.94"/>
<path d="M334 431L373 410" stroke-width="0.83"/>
<path d="M356.3 404.4L368.8 411.7" stroke-width="0.94"/>
<path d="M402.5 350L343.3 383.7" stroke-width="1.14"/>
<path d="M416.7 345C416.8 347.5 417.4 355.3 417.5 360C417.6 364.7 417.5 369.1 417.5 373.3C417.5 377.5 417.9 382.5 417.5 385C417.1 387.5 415.4 387.9 415 388.5" stroke-width="1.14"/>
<path d="M405 328.3C405.8 328.7 406.9 329.6 410 330.8C413.1 332.1 420 334.4 423.3 335.8C426.6 337.2 427.8 338.2 430 339.2C432.2 340.2 435.6 341.3 436.7 341.7" stroke-width="1.87"/>
<path d="M436.7 341.7L431.7 344.2" stroke-width="1.66"/>
<path d="M431.7 344.2C431.6 346.6 431.1 353.7 430.8 358.3C430.5 362.9 430.1 368.1 430 371.7C429.9 375.3 430.4 378.3 430 380C429.6 381.7 429.2 381.8 427.5 381.7C425.8 381.6 421.2 379.6 420 379.2" stroke-width="1.77"/>
<path d="M430 371.7L434.2 372.5L430.8 375" stroke-width="1.25"/>
<path d="M405 328.3L413.3 338.3L407.5 343.3L422.5 344.2" stroke-width="1.14"/>
<path d="M407.5 343.3L413.3 340L423.3 344.2" stroke-width="1.04"/>
<path d="M412.5 375L416.5 373.3L420.8 375L412.5 375" stroke-width="1.14"/>
<path d="M296.7 295C294.8 296.2 289.2 299.9 285 302.5C280.8 305.1 275.6 308 271.7 310.8C267.8 313.6 264.5 316.3 261.7 319.2C258.9 322.1 256.4 325.1 255 328.3C253.6 331.5 253.6 335.5 253.3 338.3C253.1 341.1 253.5 343.9 253.5 345" stroke-width="1.25"/>
<path d="M299.5 298.5C297.1 300 288.9 305.2 285 307.5C281.1 309.8 277.3 311.7 275.8 312.5" stroke-width="1.04"/>
<path d="M277.5 314.5C275.7 315.7 269.6 319.1 266.7 321.7C263.8 324.3 261.9 327.2 260 330C258.1 332.8 255.8 337.1 255 338.5" stroke-width="1.04"/>
<path d="M295.8 291.7 Q295.3 285.5 301.7 282.5 Q306 282.2 312.5 285.8 L321.7 289.2 L321.7 291.7 L313.3 298.3 L306.7 301.7 Q298.5 298 295.8 291.7Z" stroke-width="1.25" fill="#fff"/>
<path d="M306.7 301.7 L305 295 Q305 288 310.8 286.7 Q314 287.5 313.3 291.7 L313.3 298.3" stroke-width="1.14"/>
<path d="M312.5 285.8L315.5 290.2" stroke-width="0.94"/>
<ellipse cx="309.7" cy="291.3" rx="2.1" ry="2.4" stroke-width="1.04"/>
<ellipse cx="317" cy="294.6" rx="1.8" ry="1.3" transform="rotate(-30 317 294.6)" stroke-width="0.94"/>
</g>
</g>
</svg>
</body></html>
